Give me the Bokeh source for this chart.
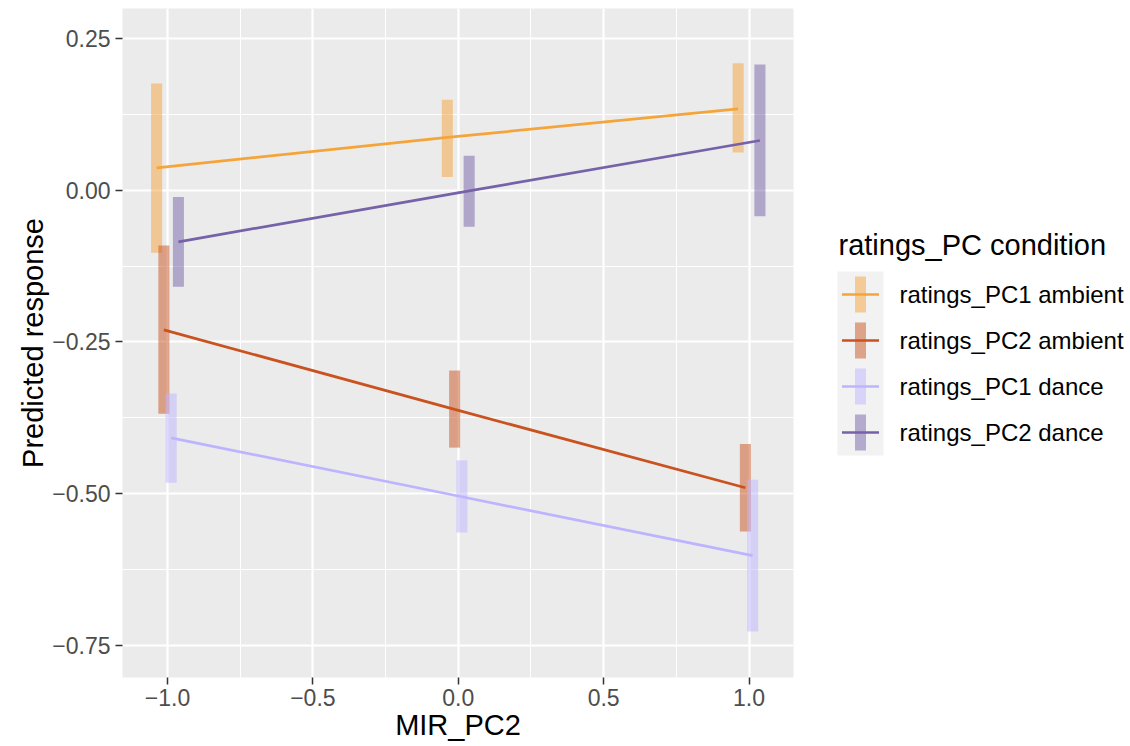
from bokeh.plotting import figure
from bokeh.models import FixedTicker, CustomJSTickFormatter, ColumnDataSource, Range1d
from bokeh.layouts import row
from bokeh.embed import file_html
from bokeh.resources import INLINE
from bokeh.core.properties import value

# ---------------- data ----------------
mir_pc2 = [-1.0, 0.0, 1.0]
groups = ["ratings_PC1 ambient", "ratings_PC2 ambient", "ratings_PC1 dance", "ratings_PC2 dance"]

pc1_ambient_fit = [0.037, 0.087, 0.134]
pc1_ambient_low = [-0.103, 0.022, 0.062]
pc1_ambient_high = [0.176, 0.149, 0.209]

pc2_ambient_fit = [-0.230, -0.361, -0.490]
pc2_ambient_low = [-0.368, -0.424, -0.562]
pc2_ambient_high = [-0.091, -0.297, -0.418]

pc1_dance_fit = [-0.408, -0.505, -0.602]
pc1_dance_low = [-0.482, -0.564, -0.727]
pc1_dance_high = [-0.335, -0.445, -0.477]

pc2_dance_fit = [-0.085, -0.001, 0.082]
pc2_dance_low = [-0.159, -0.060, -0.043]
pc2_dance_high = [-0.011, 0.057, 0.207]

fits = [pc1_ambient_fit, pc2_ambient_fit, pc1_dance_fit, pc2_dance_fit]
lows = [pc1_ambient_low, pc2_ambient_low, pc1_dance_low, pc2_dance_low]
highs = [pc1_ambient_high, pc2_ambient_high, pc1_dance_high, pc2_dance_high]

x_ticks = [-1.0, -0.5, 0.0, 0.5, 1.0]
x_minor = [-0.75, -0.25, 0.25, 0.75]
y_ticks = [-0.75, -0.5, -0.25, 0.0, 0.25]
y_minor = [-0.625, -0.375, -0.125, 0.125]

colors = ["#F5A43A", "#C9521E", "#BDB4FF", "#7562A8"]

FONT = "Liberation Sans"
DODGE = 0.1
BAR_W = 0.038

# ---------------- main panel ----------------
p = figure(width=815, height=746,
           x_range=Range1d(-1.1548, 1.153), y_range=Range1d(-0.8027, 0.2994),
           output_backend="svg", toolbar_location=None,
           min_border_left=122, min_border_right=22, min_border_top=8, min_border_bottom=69)
p.background_fill_color = "#EBEBEB"
p.border_fill_color = "white"
p.outline_line_color = None

n = len(groups)
for i in range(n):
    off = (i - (n - 1) / 2) * DODGE / n
    xs = [x + off for x in mir_pc2]
    src = ColumnDataSource(dict(x=xs, fit=fits[i], low=lows[i], high=highs[i]))
    p.vbar(x="x", top="high", bottom="low", width=BAR_W, source=src,
           fill_color=colors[i], fill_alpha=0.5, line_color=None)
for i in range(n):
    off = (i - (n - 1) / 2) * DODGE / n
    xs = [x + off for x in mir_pc2]
    p.line(xs, fits[i], line_color=colors[i], line_width=2.7)

p.xaxis.ticker = FixedTicker(ticks=x_ticks, minor_ticks=x_minor)
p.yaxis.ticker = FixedTicker(ticks=y_ticks, minor_ticks=y_minor)
p.xaxis.formatter = CustomJSTickFormatter(code="return (tick < 0 ? '\\u2212' : '') + Math.abs(tick).toFixed(1);")
p.yaxis.formatter = CustomJSTickFormatter(code="return (tick < 0 ? '\\u2212' : '') + Math.abs(tick).toFixed(2);")

for ax in (p.xaxis, p.yaxis):
    ax.axis_line_color = None
    ax.major_tick_line_color = "#333333"
    ax.major_tick_line_width = 1.5
    ax.major_tick_out = 7
    ax.major_tick_in = 0
    ax.minor_tick_line_color = None
    ax.major_label_text_font = FONT
    ax.major_label_text_font_size = "23px"
    ax.major_label_text_color = "#4D4D4D"
    ax.axis_label_text_font = FONT
    ax.axis_label_text_font_size = "29px"
    ax.axis_label_text_font_style = "normal"
    ax.axis_label_text_color = "black"
    ax.axis_label_standoff = 0

p.xaxis.major_label_standoff = 4
p.yaxis.major_label_standoff = 5
p.xaxis.axis_label = "MIR_PC2"
p.yaxis.axis_label = "Predicted response"

for g in (p.xgrid, p.ygrid):
    g.grid_line_color = "white"
    g.grid_line_width = 2.2
    g.minor_grid_line_color = "white"
    g.minor_grid_line_width = 1.1

# ---------------- legend panel ----------------
# The row aligns this plot's frame with the main panel (screen y 8..677),
# so the y range is set so that values equal screen pixels.
LW = 315
lg = figure(width=LW, height=746, x_range=Range1d(0, LW), y_range=Range1d(677, 8),
            output_backend="svg", toolbar_location=None,
            x_axis_type=None, y_axis_type=None,
            min_border=0, min_border_left=0, min_border_right=0, min_border_top=8, min_border_bottom=69)
lg.grid.visible = False
lg.outline_line_color = None
lg.background_fill_color = "white"
lg.border_fill_color = "white"

title_x, title_y = 23, 244
key_left, key_w = 22, 46
key_top, key_h = 271, 46
bar_w, bar_h = 11, 36
line_len = 37
label_x = 84

lg.text(x=[title_x], y=[title_y], text=["ratings_PC condition"],
        text_font=value(FONT), text_font_size="29px", text_color="black",
        text_baseline="middle", text_align="left")

cy = [key_top + key_h * (i + 0.5) for i in range(n)]
kx = key_left + key_w / 2
lg.quad(left=[key_left], right=[key_left + key_w], top=[key_top], bottom=[key_top + key_h * n],
        fill_color="#F2F2F2", line_color=None)
lsrc = ColumnDataSource(dict(
    x=[kx] * n, y=cy,
    top=[c - bar_h / 2 for c in cy], bottom=[c + bar_h / 2 for c in cy],
    x0=[kx - line_len / 2] * n, x1=[kx + line_len / 2] * n,
    color=colors, label=groups, lx=[label_x] * n,
))
lg.vbar(x="x", top="top", bottom="bottom", width=bar_w, source=lsrc,
        fill_color="color", fill_alpha=0.5, line_color=None)
lg.segment(x0="x0", y0="y", x1="x1", y1="y", line_color="color", line_width=2.7, source=lsrc)
lg.text(x="lx", y="y", text="label", source=lsrc,
        text_font=value(FONT), text_font_size="24px", text_color="black",
        text_baseline="middle", text_align="left")

layout = row(p, lg)
open("out.html", "w").write(file_html(layout, INLINE))
